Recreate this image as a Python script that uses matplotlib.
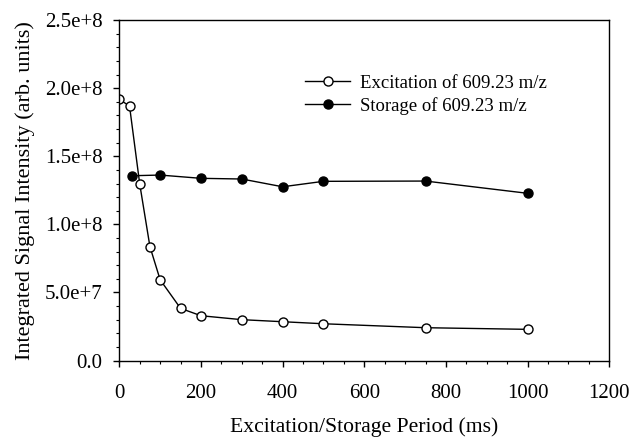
import numpy as np
import matplotlib.pyplot as plt
from matplotlib.ticker import MultipleLocator, FixedLocator, FixedFormatter

plt.rcParams['font.family'] = ['Liberation Serif', 'DejaVu Serif']

# Dados
exc_t = [0, 25, 50, 75, 100, 150, 200, 300, 400, 500, 750, 1000]
exc_i = [1.918e8, 1.869e8, 1.296e8, 0.836e8, 0.593e8, 0.383e8, 0.329e8,
         0.300e8, 0.285e8, 0.270e8, 0.241e8, 0.229e8]

sto_t = [30, 100, 200, 300, 400, 500, 750, 1000]
sto_i = [1.357e8, 1.362e8, 1.338e8, 1.333e8, 1.276e8, 1.316e8, 1.318e8, 1.228e8]

yticks = [0, 5e7, 1e8, 1.5e8, 2e8, 2.5e8]
ytick_labels = ["0.0", "5.0e+7", "1.0e+8", "1.5e+8", "2.0e+8", "2.5e+8"]

fig = plt.figure(figsize=(6.33, 4.37), dpi=100)
ax = fig.add_axes([0.1885, 0.175, 0.774, 0.779])

ax.plot(exc_t, exc_i, color='black', lw=1.0, marker='o', ms=6.5,
        mfc='white', mec='black', mew=1.0, label='Excitation of 609.23 m/z')
ax.plot(sto_t, sto_i, color='black', lw=1.0, marker='o', ms=6.5,
        mfc='black', mec='black', label='Storage of 609.23 m/z')

ax.set_xlim(0, 1200)
ax.set_ylim(0, 2.5e8)
ax.xaxis.set_major_locator(MultipleLocator(200))
ax.xaxis.set_minor_locator(MultipleLocator(50))
ax.yaxis.set_major_locator(FixedLocator(yticks))
ax.yaxis.set_major_formatter(FixedFormatter(ytick_labels))
ax.yaxis.set_minor_locator(MultipleLocator(1e7))

ax.tick_params(which='major', direction='out', length=4, width=1, labelsize=15, pad=8)
ax.tick_params(axis='x', which='major', pad=13)
ax.tick_params(which='minor', direction='out', length=2.5, width=0.8)
for s in ax.spines.values():
    s.set_linewidth(1.0)

ax.set_xlabel("Excitation/Storage Period (ms)", fontsize=15.6, labelpad=10)
ax.set_ylabel("Integrated Signal Intensity (arb. units)", fontsize=16, labelpad=7)

ax.legend(loc='upper left', bbox_to_anchor=(0.345, 0.89), frameon=False,
          fontsize=13.5, handlelength=2.4, handletextpad=0.5, labelspacing=0.3)

fig.savefig("out.png", dpi=100)
